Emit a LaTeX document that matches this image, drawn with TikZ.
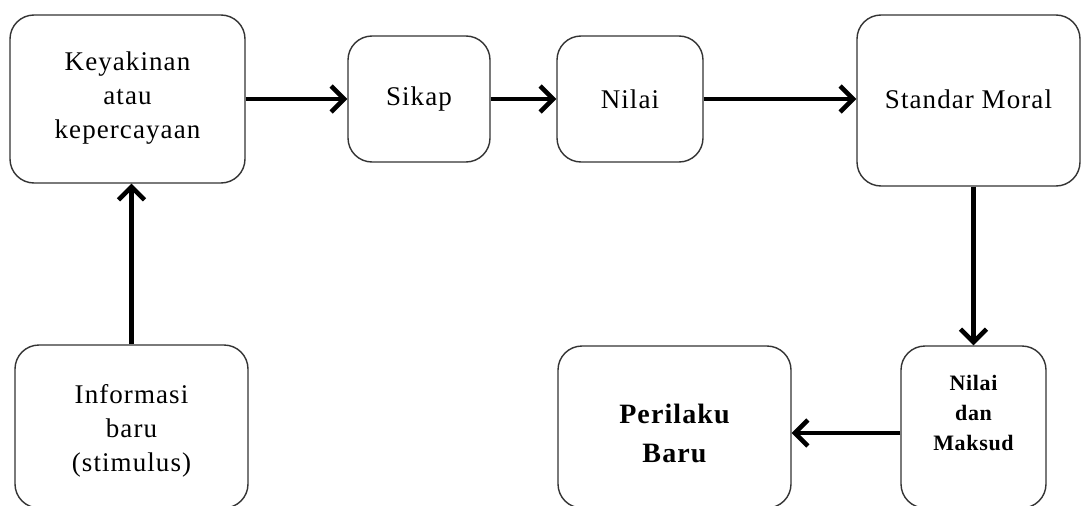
\documentclass[tikz,border=0pt]{standalone}
\usepackage{fontspec}
\setmainfont{Liberation Serif}
\usetikzlibrary{arrows.meta}

\tikzset{
	box/.style={rectangle,rounded corners=24pt,draw=black!80,line width=1.4pt,minimum width=#1},
	box/.default=146pt,
	flow/.style={line width=4.5pt,-{Straight Barb[length=13pt,width=26pt,line width=4.5pt]}},
	txt/.style={align=center,font=\fontsize{27}{34}\selectfont\addfontfeatures{LetterSpace=4}}
}

\begin{document}
\begin{tikzpicture}[x=1pt,y=1pt]
		\useasboundingbox (0,0) rectangle (1082,-506);
		\node[box=235pt,minimum height=168pt] (A) at (127.5,-99) {};
		\node[box=142pt,minimum height=126pt] (B) at (419,-99) {};
		\node[box=146pt,minimum height=126pt] (C) at (630,-99) {};
		\node[box=223pt,minimum height=171pt] (D) at (968.5,-100.5) {};
		\node[box=233pt,minimum height=163pt] (E) at (131.5,-426.5) {};
		\node[box=233pt,minimum height=162pt] (F) at (674.5,-427) {};
		\node[box=145pt,minimum height=162pt] (G) at (973.5,-427) {};

		\draw[flow] (A) -- (B);
		\draw[flow] (B) -- (C);
		\draw[flow] (C.east) -- (C.east -| D.west);
		\draw[flow] (D.south -| G.north) -- (G.north);
		\draw[flow] ([yshift=-6pt]G.west) -- ([yshift=-6pt]G.west -| F.east);
		\draw[flow] (E.north) -- (E.north |- A.south);

		\node[txt] (tA) at (127.5,-98) {Keyakinan\\atau\\kepercayaan};
		\node[txt] (tB) at (419,-99) {Sikap};
		\node[txt] (tC) at (630,-99) {Nilai};
		\node[txt] (tD) at (968.5,-99) {Standar Moral};
		\node[txt] (tE) at (131.5,-431) {Informasi\\baru\\(stimulus)};
		\node[txt,font=\bfseries\fontsize{28}{39}\selectfont\addfontfeatures{LetterSpace=4}] (tF) at (674.5,-433) {Perilaku\\Baru};
		\node[txt,font=\bfseries\fontsize{22}{30}\selectfont\addfontfeatures{LetterSpace=3}] (tG) at (973.5,-413) {Nilai\\dan\\Maksud};
	\end{tikzpicture}
\end{document}
